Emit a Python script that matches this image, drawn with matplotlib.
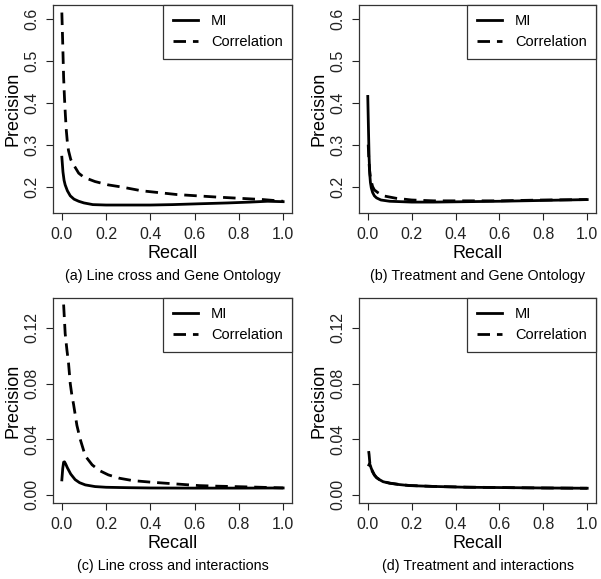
import numpy as np
import matplotlib
matplotlib.use("Agg")
import matplotlib.pyplot as plt

plt.rcParams['font.family'] = ['Liberation Sans', 'DejaVu Sans']

# (a) Line cross and Gene Ontology
a_mi_x = [0.0, 0.005, 0.01, 0.015, 0.025, 0.038, 0.055, 0.076, 0.1, 0.14, 0.2, 0.3, 0.4, 0.5, 0.62, 0.75, 0.85, 0.93, 1.0]
a_mi_y = [0.270, 0.235, 0.215, 0.204, 0.190, 0.178, 0.170, 0.165, 0.161, 0.157, 0.156, 0.156, 0.156, 0.157, 0.159, 0.161, 0.163, 0.165, 0.164]
a_co_x = [0.0, 0.004, 0.008, 0.012, 0.016, 0.02, 0.025, 0.03, 0.04, 0.05, 0.06, 0.076, 0.1, 0.15, 0.21, 0.27, 0.36, 0.52, 0.7, 0.91, 1.0]
a_co_y = [0.615, 0.540, 0.460, 0.410, 0.370, 0.335, 0.305, 0.286, 0.265, 0.254, 0.246, 0.232, 0.222, 0.212, 0.204, 0.199, 0.190, 0.181, 0.175, 0.169, 0.165]

# (b) Treatment and Gene Ontology
b_mi_x = [0.0, 0.003, 0.006, 0.009, 0.012, 0.016, 0.022, 0.03, 0.04, 0.06, 0.1, 0.2, 0.3, 0.45, 0.6, 0.8, 1.0]
b_mi_y = [0.415, 0.340, 0.270, 0.230, 0.210, 0.197, 0.186, 0.178, 0.173, 0.168, 0.165, 0.163, 0.163, 0.164, 0.165, 0.167, 0.169]
b_co_x = [0.002, 0.005, 0.008, 0.012, 0.016, 0.022, 0.03, 0.045, 0.07, 0.1, 0.13, 0.2, 0.3, 0.45, 0.6, 0.8, 1.0]
b_co_y = [0.300, 0.262, 0.240, 0.222, 0.212, 0.200, 0.192, 0.186, 0.178, 0.175, 0.172, 0.168, 0.166, 0.166, 0.166, 0.168, 0.169]

# (c) Line cross and interactions
c_mi_x = [0.0, 0.004, 0.008, 0.012, 0.018, 0.025, 0.03, 0.04, 0.06, 0.08, 0.106, 0.15, 0.2, 0.3, 0.4, 0.6, 0.8, 1.0]
c_mi_y = [0.0108, 0.019, 0.0235, 0.0238, 0.0220, 0.0195, 0.0180, 0.0150, 0.0110, 0.0088, 0.0072, 0.0060, 0.0055, 0.0052, 0.0050, 0.0049, 0.0049, 0.0050]
c_co_x = [0.008, 0.012, 0.015, 0.019, 0.023, 0.03, 0.038, 0.045, 0.053, 0.06, 0.068, 0.083, 0.106, 0.137, 0.17, 0.21, 0.26, 0.32, 0.4, 0.47, 0.55, 0.62, 0.7, 0.78, 0.9, 1.0]
c_co_y = [0.1368, 0.125, 0.116, 0.110, 0.104, 0.095, 0.080, 0.072, 0.065, 0.058, 0.050, 0.040, 0.028, 0.0216, 0.0175, 0.0144, 0.0120, 0.0103, 0.0092, 0.0084, 0.0075, 0.0067, 0.0063, 0.0060, 0.0055, 0.0050]

# (d) Treatment and interactions
d_mi_x = [0.005, 0.008, 0.012, 0.016, 0.022, 0.03, 0.04, 0.053, 0.07, 0.1, 0.14, 0.19, 0.3, 0.45, 0.6, 0.8, 1.0]
d_mi_y = [0.0215, 0.0225, 0.021, 0.019, 0.017, 0.0145, 0.0125, 0.0110, 0.0095, 0.0084, 0.0075, 0.0067, 0.0061, 0.0055, 0.0053, 0.0050, 0.0048]
d_co_x = [0.004, 0.006, 0.009, 0.012, 0.016, 0.022, 0.03, 0.04, 0.053, 0.07, 0.1, 0.14, 0.19, 0.3, 0.45, 0.6, 0.8, 1.0]
d_co_y = [0.0315, 0.0290, 0.0235, 0.0205, 0.0185, 0.0165, 0.0142, 0.0124, 0.0110, 0.0096, 0.0085, 0.0076, 0.0068, 0.0061, 0.0056, 0.0053, 0.0050, 0.0048]

captions = ["(a) Line cross and Gene Ontology", "(b) Treatment and Gene Ontology",
            "(c) Line cross and interactions", "(d) Treatment and interactions"]
x_ticks = [0.0, 0.2, 0.4, 0.6, 0.8, 1.0]
y_ticks_go = [0.2, 0.3, 0.4, 0.5, 0.6]
y_ticks_int = [0.00, 0.04, 0.08, 0.12]

panels = [
    (a_mi_x, a_mi_y, a_co_x, a_co_y),
    (b_mi_x, b_mi_y, b_co_x, b_co_y),
    (c_mi_x, c_mi_y, c_co_x, c_co_y),
    (d_mi_x, d_mi_y, d_co_x, d_co_y),
]

W, H = 601, 579
fig = plt.figure(figsize=(W / 100, H / 100), dpi=100)

# axes boxes in pixels: left, top, right, bottom
boxes = [(53, 5, 292, 213), (359, 5, 596, 213), (53, 298, 292, 503), (359, 298, 596, 503)]
caption_y = [276, 276, 566, 566]

for i, (mx, my, cx, cy) in enumerate(panels):
    l, t, r, b = boxes[i]
    ax = fig.add_axes([l / W, 1 - b / H, (r - l) / W, (b - t) / H])
    ax.plot(mx, my, color='black', lw=2.0, label='MI')
    ax.plot(cx, cy, color='black', lw=2.0, dashes=(4.5, 2.5), label='Correlation')
    ax.set_xlim(-0.04, 1.04)
    ax.set_xticks(x_ticks)
    ax.set_xticklabels(['%.1f' % v for v in x_ticks])
    if i < 2:
        ax.set_ylim(0.137, 0.633)
        ax.set_yticks(y_ticks_go)
        ax.set_yticklabels(['%.1f' % v for v in y_ticks_go])
    else:
        ax.set_ylim(-0.0058, 0.1415)
        ax.set_yticks(y_ticks_int)
        ax.set_yticklabels(['%.2f' % v for v in y_ticks_int])
    for lab in ax.get_yticklabels():
        lab.set_rotation(90)
        lab.set_va('center')
    ax.tick_params(length=5, width=0.8, labelsize=11.5, colors='#222222', pad=5)
    for s in ax.spines.values():
        s.set_color('#333333')
        s.set_linewidth(0.9)
    ax.set_xlabel('Recall', fontsize=13, labelpad=2)
    ax.set_ylabel('Precision', fontsize=13, labelpad=2)
    leg = ax.legend(loc='upper right', borderaxespad=0, fancybox=False, fontsize=10.5,
                    handlelength=1.7, handletextpad=0.9, framealpha=1, borderpad=0.65,
                    labelspacing=0.45)
    leg.get_frame().set_edgecolor('#333333')
    leg.get_frame().set_linewidth(0.9)
    fig.text((l + r) / 2 / W, 1 - caption_y[i] / H, captions[i], ha='center', va='center', fontsize=10.3)

fig.savefig('out.png', dpi=100)
